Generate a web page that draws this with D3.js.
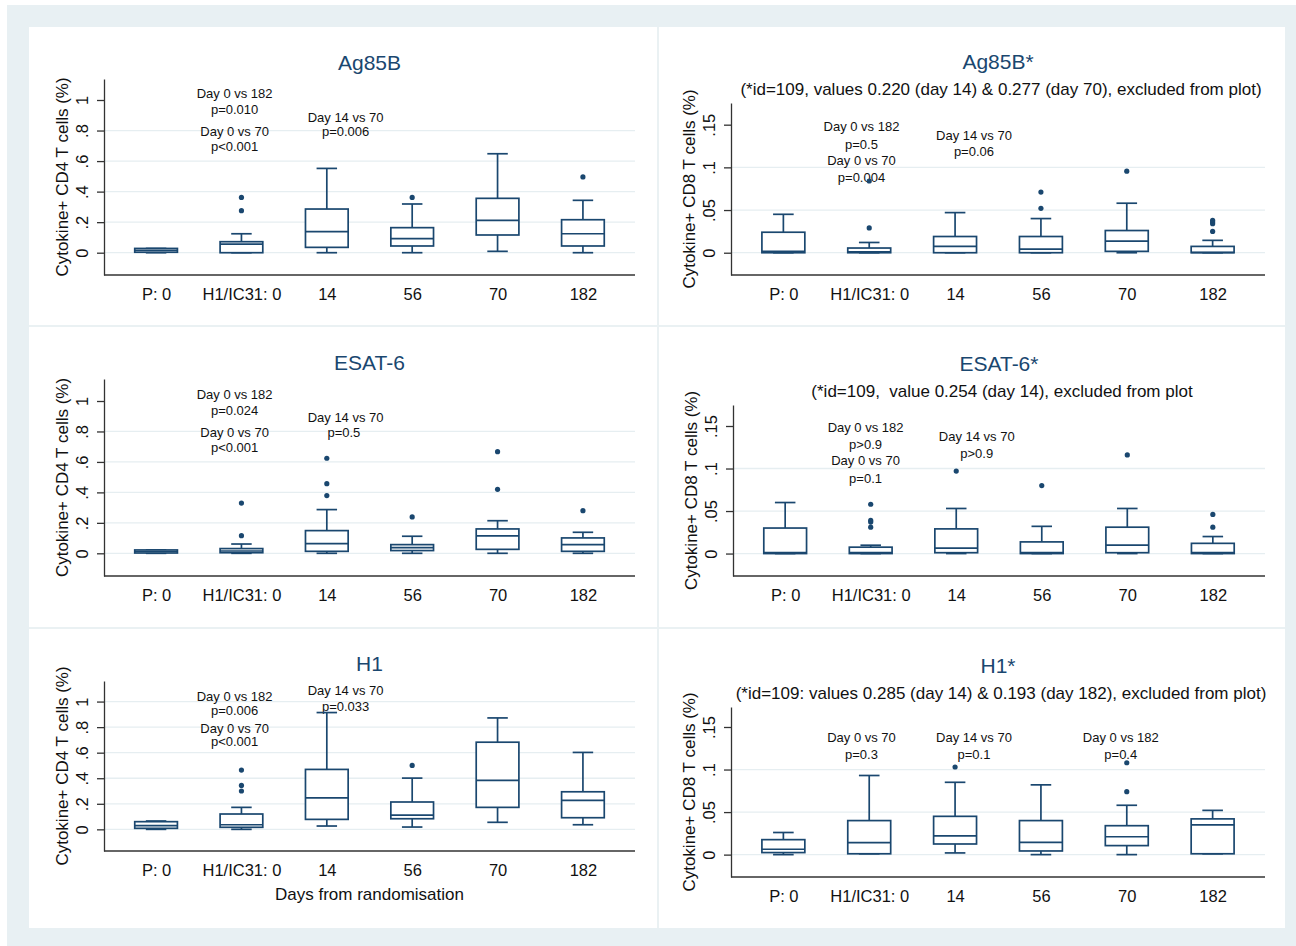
<!DOCTYPE html>
<html><head><meta charset="utf-8">
<script src="https://cdn.jsdelivr.net/npm/d3@7"></script>
<style>
body{margin:0;background:#fff;}
svg text{font-family:"Liberation Sans",Arial,sans-serif;white-space:pre;}
</style></head><body>
<svg id="chart" width="1296" height="946"></svg>
<script>
const categories = ["P: 0", "H1/IC31: 0", "14", "56", "70", "182"];

// each entry: [lower whisker, q1, median, q3, upper whisker]
const ag85bCD4 = [[0,0.003,0.015,0.028,0.028],[0,0,0.056,0.072,0.124],[0,0.035,0.138,0.286,0.552],[0,0.044,0.092,0.164,0.319],[0.009,0.116,0.212,0.356,0.648],[0,0.044,0.124,0.216,0.343]];
const ag85bCD4Outliers = [[],[0.275,0.362],[],[0.362],[],[0.496]];
const ag85bCD8 = [[0,0,0.0015,0.024,0.045],[0,0,0.001,0.0055,0.012],[0,0,0.0074,0.019,0.047],[0,0,0.0043,0.019,0.040],[0,0.0016,0.0137,0.026,0.058],[0,0,0.0003,0.0074,0.0145]];
const ag85bCD8Outliers = [[],[0.029,0.084],[],[0.052,0.071],[0.0955],[0.025,0.034,0.036,0.038]];
const esat6CD4 = [[0,0.002,0.012,0.022,0.022],[0,0.004,0.015,0.031,0.061],[0,0.013,0.063,0.149,0.287],[0,0.018,0.037,0.057,0.112],[0,0.026,0.114,0.16,0.214],[0,0.013,0.057,0.101,0.138]];
const esat6CD4Outliers = [[],[0.116,0.33],[0.379,0.457,0.624],[0.239],[0.42,0.667],[0.28]];
const esat6CD8 = [[0,0,0.001,0.030,0.060],[0,0,0.001,0.0075,0.0098],[0,0.001,0.0063,0.029,0.053],[0,0,0.001,0.0137,0.032],[0,0.001,0.010,0.031,0.053],[0,0,0.001,0.012,0.020]];
const esat6CD8Outliers = [[],[0.031,0.037,0.039,0.058],[0.097],[0.080],[0.116],[0.031,0.046]];
const h1CD4 = [[0,0.008,0.029,0.06,0.065],[0,0.016,0.036,0.12,0.172],[0.026,0.078,0.247,0.469,0.914],[0.018,0.083,0.112,0.214,0.401],[0.055,0.172,0.383,0.682,0.872],[0.036,0.091,0.227,0.294,0.602]];
const h1CD4Outliers = [[],[0.30,0.344,0.464],[],[0.5],[],[]];
const h1CD8 = [[0,0.0024,0.0063,0.0176,0.026],[0.001,0.001,0.014,0.040,0.093],[0.002,0.0125,0.022,0.045,0.085],[0,0.0043,0.0145,0.040,0.082],[0,0.0106,0.021,0.034,0.058],[0.001,0.001,0.035,0.042,0.052]];
const h1CD8Outliers = [[],[],[0.103],[],[0.074,0.108],[]];

const cd4Ticks = [0, 0.2, 0.4, 0.6, 0.8, 1];
const cd4TickLabels = ["0", ".2", ".4", ".6", ".8", "1"];
const cd8Ticks = [0, 0.05, 0.1, 0.15];
const cd8TickLabels = ["0", ".05", ".1", ".15"];

const titles = ["Ag85B", "Ag85B*", "ESAT-6", "ESAT-6*", "H1", "H1*"];
const subtitles = ["", "(*id=109, values 0.220 (day 14) & 0.277 (day 70), excluded from plot)", "", "(*id=109,  value 0.254 (day 14), excluded from plot", "", "(*id=109: values 0.285 (day 14) & 0.193 (day 182), excluded from plot)"];
const cd4Label = "Cytokine+ CD4 T cells (%)";
const cd8Label = "Cytokine+ CD8 T cells (%)";
const xTitle = "Days from randomisation";

// annotations: [text, category position (index), value]
const ag85bCD4Notes = [["Day 0 vs 182",0.92,1.044],["p=0.010",0.92,0.939],["Day 0 vs 70",0.92,0.792],["p<0.001",0.92,0.694],["Day 14 vs 70",2.22,0.889],["p=0.006",2.22,0.792]];
const ag85bCD8Notes = [["Day 0 vs 182",0.91,0.1477],["p=0.5",0.91,0.1274],["Day 0 vs 70",0.91,0.1086],["p=0.004",0.91,0.0884],["Day 14 vs 70",2.22,0.1371],["p=0.06",2.22,0.1184]];
const esat6CD4Notes = [["Day 0 vs 182",0.92,1.044],["p=0.024",0.92,0.941],["Day 0 vs 70",0.92,0.794],["p<0.001",0.92,0.696],["Day 14 vs 70",2.22,0.890],["p=0.5",2.2,0.796]];
const esat6CD8Notes = [["Day 0 vs 182",0.94,0.1485],["p>0.9",0.94,0.1284],["Day 0 vs 70",0.94,0.1091],["p=0.1",0.94,0.0887],["Day 14 vs 70",2.24,0.1382],["p>0.9",2.24,0.1178]];
const h1CD4Notes = [["Day 0 vs 182",0.92,1.042],["p=0.006",0.92,0.935],["Day 0 vs 70",0.92,0.788],["p<0.001",0.92,0.686],["Day 14 vs 70",2.22,1.086],["p=0.033",2.22,0.963]];
const h1CD8Notes = [["Day 0 vs 70",0.91,0.1383],["p=0.3",0.91,0.1175],["Day 14 vs 70",2.22,0.1383],["p=0.1",2.22,0.1175],["Day 0 vs 182",3.93,0.1383],["p=0.4",3.93,0.1175]];

// layout (pixel rects of plot regions) and axis ranges
const panels = [
  {rect:[104,79,635,275], domain:[-0.146,1.1375], stats:ag85bCD4, out:ag85bCD4Outliers, ticks:cd4Ticks, tl:cd4TickLabels, ylab:cd4Label, notes:ag85bCD4Notes, topGrid:false, xt:false},
  {rect:[731,103,1265,275], domain:[-0.0261,0.1754], stats:ag85bCD8, out:ag85bCD8Outliers, ticks:cd8Ticks, tl:cd8TickLabels, ylab:cd8Label, notes:ag85bCD8Notes, topGrid:false, xt:false},
  {rect:[104,379,635,576], domain:[-0.149,1.1445], stats:esat6CD4, out:esat6CD4Outliers, ticks:cd4Ticks, tl:cd4TickLabels, ylab:cd4Label, notes:esat6CD4Notes, topGrid:false, xt:false},
  {rect:[733,405,1265,576], domain:[-0.0264,0.1747], stats:esat6CD8, out:esat6CD8Outliers, ticks:cd8Ticks, tl:cd8TickLabels, ylab:cd8Label, notes:esat6CD8Notes, topGrid:false, xt:false},
  {rect:[104,681,635,851], domain:[-0.1695,1.161], stats:h1CD4, out:h1CD4Outliers, ticks:cd4Ticks, tl:cd4TickLabels, ylab:cd4Label, notes:h1CD4Notes, topGrid:true, xt:true},
  {rect:[731,707,1265,877], domain:[-0.0263,0.1735], stats:h1CD8, out:h1CD8Outliers, ticks:cd8Ticks, tl:cd8TickLabels, ylab:cd8Label, notes:h1CD8Notes, topGrid:false, xt:false}
];

const navy = "#1a476f";
const bg = "#e8f0f3";
const svg = d3.select("#chart");
svg.append("rect").attr("x",7).attr("y",5).attr("width",1289).attr("height",941).attr("fill",bg);
svg.append("rect").attr("x",29).attr("y",27).attr("width",1256).attr("height",901).attr("fill","#fff");
svg.append("rect").attr("x",657).attr("y",27).attr("width",2).attr("height",901).attr("fill","#eaf1f3");
svg.append("rect").attr("x",29).attr("y",325).attr("width",1256).attr("height",2).attr("fill","#eaf1f3");
svg.append("rect").attr("x",29).attr("y",627).attr("width",1256).attr("height",2).attr("fill","#eaf1f3");

panels.forEach((p, pi) => {
  const [l, t, r, b] = p.rect;
  const x = d3.scalePoint().domain(categories).range([l, r]).padding(0.61);
  const step = x.step();
  const y = d3.scaleLinear().domain(p.domain).range([b, t]);
  const g = svg.append("g");
  const cx = (l + r) / 2;

  // gridlines
  const gridVals = p.topGrid ? p.ticks : p.ticks.slice(0, -1);
  g.selectAll("line.grid").data(gridVals).join("line").attr("class","grid")
    .attr("x1", l).attr("x2", r).attr("y1", d => y(d)).attr("y2", d => y(d))
    .attr("stroke", "#e6eef1").attr("stroke-width", 1.3);

  // title & subtitle
  const hasSub = !!subtitles[pi];
  g.append("text").attr("x", cx).attr("y", t - (hasSub ? 34 : 9 + (p.xt ? 1.5 : 0))).attr("text-anchor","middle")
    .attr("font-size", 21).attr("fill", navy).text(titles[pi]);
  if (hasSub) {
    g.append("text").attr("x", cx + 3).attr("y", t - 8).attr("text-anchor","middle")
      .attr("font-size", 17).attr("fill", "#111").text(subtitles[pi]);
  }

  // y axis
  const ya = g.append("g").attr("transform", `translate(${l},0)`)
    .call(d3.axisLeft(y).tickValues(p.ticks).tickFormat((d, j) => p.tl[j]).tickSize(7).tickSizeOuter(0));
  ya.select(".domain").attr("stroke", "#333").attr("stroke-width", 1.3);
  ya.selectAll(".tick line").attr("stroke", "#333").attr("stroke-width", 1.3);
  ya.selectAll(".tick text").attr("transform", "rotate(-90)").attr("x", 0).attr("y", -22)
    .attr("dy", "0.36em").attr("text-anchor", "middle").attr("font-size", 16.5).attr("fill", "#111")
    .attr("font-family", null);

  // x axis
  const xa = g.append("g").attr("transform", `translate(0,${b})`)
    .call(d3.axisBottom(x).tickSize(0).tickSizeOuter(0));
  xa.select(".domain").attr("stroke", "#333").attr("stroke-width", 1.3).attr("d", `M${l},0H${r}`);
  xa.selectAll(".tick text").attr("y", 19).attr("dy", "0.36em").attr("font-size", 16.5).attr("fill", "#111")
    .attr("font-family", null);

  // y label
  g.append("text").attr("transform", `translate(${l - 42},${(t + b) / 2}) rotate(-90)`)
    .attr("text-anchor", "middle").attr("dy", "0.36em").attr("font-size", 17).attr("fill", "#111").text(p.ylab);

  if (p.xt) {
    g.append("text").attr("x", cx).attr("y", b + 43).attr("dy", "0.36em").attr("text-anchor", "middle")
      .attr("font-size", 17).attr("fill", "#111").text(xTitle);
  }

  // annotations
  const xi = i => x(categories[0]) + i * step;
  g.selectAll("text.note").data(p.notes).join("text").attr("class","note")
    .attr("x", d => xi(d[1])).attr("y", d => y(d[2])).attr("dy", "0.36em")
    .attr("text-anchor", "middle").attr("font-size", 13).attr("fill", "#111").text(d => d[0]);

  // boxes
  const bw = step * 0.5, cw = step * 0.24;
  const bx = g.selectAll("g.box").data(p.stats.map((s, k) => ({cat: categories[k], s, o: p.out[k]})))
    .join("g").attr("class", "box");
  const stroke = sel => sel.attr("stroke", navy).attr("stroke-width", 1.7).attr("fill", "none");
  // whiskers
  bx.append("line").attr("x1", d => x(d.cat)).attr("x2", d => x(d.cat)).attr("y1", d => y(d.s[3])).attr("y2", d => y(d.s[4])).call(stroke);
  bx.append("line").attr("x1", d => x(d.cat)).attr("x2", d => x(d.cat)).attr("y1", d => y(d.s[1])).attr("y2", d => y(d.s[0])).call(stroke);
  bx.append("line").attr("x1", d => x(d.cat) - cw / 2).attr("x2", d => x(d.cat) + cw / 2).attr("y1", d => y(d.s[4])).attr("y2", d => y(d.s[4])).call(stroke);
  bx.append("line").attr("x1", d => x(d.cat) - cw / 2).attr("x2", d => x(d.cat) + cw / 2).attr("y1", d => y(d.s[0])).attr("y2", d => y(d.s[0])).call(stroke);
  // box
  bx.append("rect").attr("x", d => x(d.cat) - bw / 2).attr("width", bw)
    .attr("y", d => y(d.s[3])).attr("height", d => Math.max(0.5, y(d.s[1]) - y(d.s[3])))
    .call(stroke).attr("fill", "#fff");
  bx.append("line").attr("x1", d => x(d.cat) - bw / 2).attr("x2", d => x(d.cat) + bw / 2).attr("y1", d => y(d.s[2])).attr("y2", d => y(d.s[2])).call(stroke);
  // outliers
  bx.each(function(d) {
    d3.select(this).selectAll("circle").data(d.o).join("circle")
      .attr("cx", x(d.cat)).attr("cy", v => y(v)).attr("r", 2.6).attr("fill", navy);
  });
});
</script>
</body></html>
